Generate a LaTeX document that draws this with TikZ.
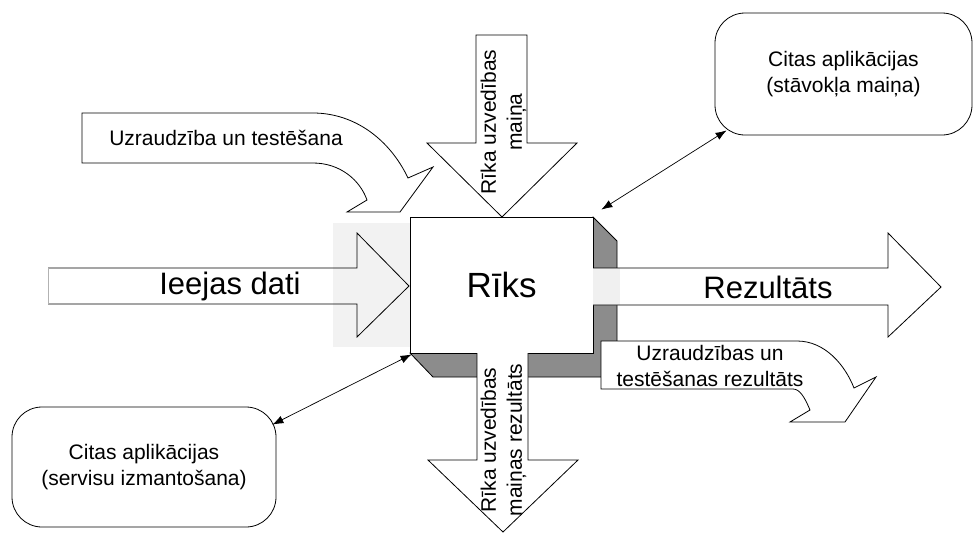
\documentclass[tikz,border=0pt]{standalone}
\usepackage{fontspec}
\setmainfont{Liberation Sans}
\usetikzlibrary{arrows.meta}
\begin{document}
\begin{tikzpicture}[x=1pt,y=-1pt,
  outline/.style={draw=black, line width=0.8pt, line join=miter},
  small/.style={font=\fontsize{21}{26}\selectfont, align=center, inner sep=0pt},
  big/.style={font=\fontsize{31}{36}\selectfont, inner sep=0pt},
  rbox/.style={draw, line width=0.8pt, rounded corners=30pt, inner sep=0pt, fill=white},
  link/.style={{Latex[length=11pt,width=8pt]}-{Latex[length=11pt,width=8pt]}, line width=0.7pt}
]
\useasboundingbox (0,0) rectangle (975,533);

% pale patch behind the input arrow head
\fill[gray!10] (333,223) rectangle (410,347);

% input arrow
\draw[outline] (48,268) -- (357,268) -- (357,233) -- (409,286) -- (357,337) -- (357,304) -- (48,304);
\draw[gray!60, line width=0.6pt] (48,268) -- (48,304);
\node[big] (in) at (230,286) {Ieejas dati};

% shadow of the tool box
\fill[black!45, draw=black, line width=0.8pt] (593,217) -- (617,241) -- (617,377) -- (433,377) -- (410,353) -- cycle;

% the tool
\node[draw, line width=0.8pt, fill=white, minimum width=183pt, minimum height=136pt, inner sep=0pt,
      font=\fontsize{35}{40}\selectfont] (riks) at (501.5,285) {Rīks};

% output arrow
\fill[white] (593,268) -- (888,268) -- (888,233) -- (941,287) -- (888,337) -- (888,305) -- (593,305) -- cycle;
\fill[gray!12] (593,268) rectangle (620,305);
\draw[outline] (593,268) -- (888,268) -- (888,233) -- (941,287) -- (888,337) -- (888,305) -- (593,305);
\node[big] (out) at (768,287) {Rezultāts};

% behaviour change arrow (top)
\draw[outline, fill=white] (476,35) -- (527,35) -- (527,143) -- (577,143) -- (502,217) -- (427,143) -- (476,143) -- cycle;
\node[small, rotate=90] (chg) at (503.5,122) {Rīka uzvedības\\maiņa};

% behaviour change result arrow (bottom)
\fill[white] (477,353) -- (477,460) -- (428,460) -- (503,532) -- (578,460) -- (528,460) -- (528,353) -- cycle;
\draw[outline] (477,353) -- (477,460) -- (428,460) -- (503,532) -- (578,460) -- (528,460) -- (528,353);
\node[small, rotate=90] (chgres) at (503.5,440) {Rīka uzvedības\\maiņas rezultāts};

% monitoring and testing (bent arrow in)
\draw[outline, fill=white] (82,113) -- (313,113) .. controls (355,113) and (390,140) .. (408,178)
  -- (433,167) -- (400,212) -- (347,212) -- (367,200)
  .. controls (360,180) and (340,163) .. (313,163) -- (82,163) -- cycle;
\node[small] (mon) at (226,138) {Uzraudzība un testēšana};

% monitoring and testing result (bent arrow out)
\draw[outline, fill=white] (601,341) -- (797,341) .. controls (825,341) and (845,365) .. (854,388)
  -- (876,377) -- (845,422) -- (790,422) -- (810,410)
  .. controls (805,398) and (800,389) .. (793,389) -- (601,389) -- cycle;
\node[small] (monres) at (710,366) {Uzraudzības un\\testēšanas rezultāts};

% other applications
\node[rbox, minimum width=257pt, minimum height=122pt] (appR) at (843.5,74) {};
\node[small] at (appR.center) {Citas aplikācijas\\(stāvokļa maiņa)};
\node[rbox, minimum width=264pt, minimum height=120pt] (appL) at (144,467) {};
\node[small] at (appL.center) {Citas aplikācijas\\(servisu izmantošana)};

% links to other applications
\draw[link] ([shift={(8,-7)}]riks.north east) -- ([shift={(12,-5)}]appR.south west);
\draw[link] ([shift={(2,1)}]riks.south west) -- ([shift={(-4,18)}]appL.north east);
\end{tikzpicture}
\end{document}
